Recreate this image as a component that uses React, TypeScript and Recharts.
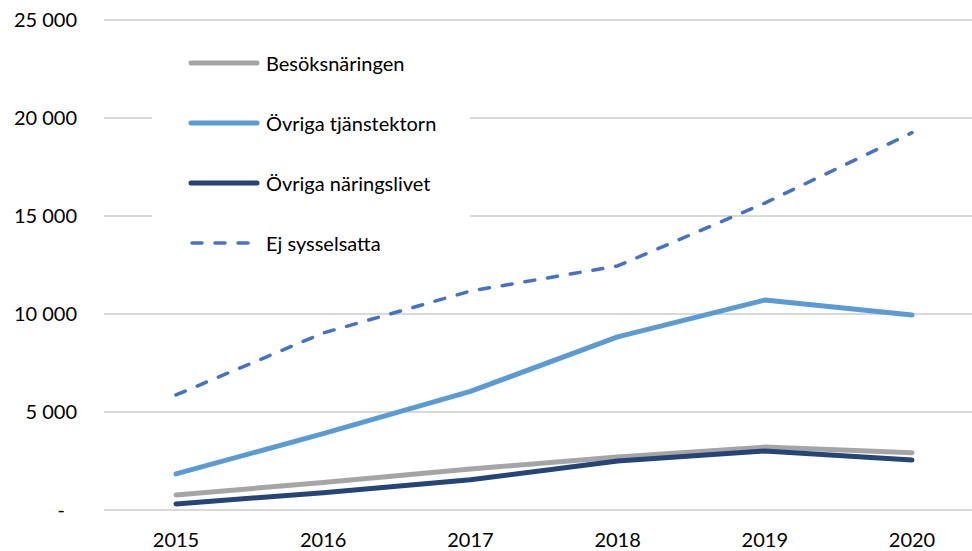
import { LineChart, Line, XAxis, YAxis, CartesianGrid, Legend } from 'recharts';

const years = ['2015', '2016', '2017', '2018', '2019', '2020'];
const besoksnaringen = [770, 1400, 2090, 2700, 3210, 2920];
const ovrigaTjanst = [1840, 3900, 6050, 8830, 10710, 9950];
const ovrigaNaring = [310, 880, 1540, 2500, 3010, 2550];
const ejSysselsatta = [5870, 9030, 11170, 12450, 15660, 19250];
const yTicks = [0, 5000, 10000, 15000, 20000, 25000];

const series = [
    { key: 'besok', name: 'Besöksnäringen', color: '#A5A5A5', width: 5, dash: undefined as string | undefined },
    { key: 'tjanst', name: 'Övriga tjänstektorn', color: '#5B9BD5', width: 5, dash: undefined },
    { key: 'naring', name: 'Övriga näringslivet', color: '#264478', width: 5, dash: undefined },
    { key: 'ej', name: 'Ej sysselsatta', color: '#4472C4', width: 3.5, dash: '10 13' },
];

const data = years.map((y, i) => ({
    year: y,
    besok: besoksnaringen[i],
    tjanst: ovrigaTjanst[i],
    naring: ovrigaNaring[i],
    ej: ejSysselsatta[i],
}));

const font = "Lato, 'Open Sans', sans-serif";

const fmt = (v: number) => String(v).replace(/\B(?=(\d{3})+(?!\d))/g, ' ');

const YTick = (props: any) => {
    const { x, y, payload } = props;
    const v = payload.value as number;
    return (
        <text x={v === 0 ? x - 12 : x} y={y} dy="0.355em" textAnchor="end" fill="#000" fontSize={20} fontFamily={font}>
            {v === 0 ? '-' : fmt(v)}
        </text>
    );
};

const LegendBox = () => (
    <div style={{ background: '#fff', width: 318, height: 240, fontFamily: font, fontSize: 20, color: '#000' }}>
        {series.map(s => (
            <div key={s.key} style={{ height: 60, display: 'flex', alignItems: 'center', paddingLeft: 36 }}>
                <svg width={72} height={10} style={{ marginRight: 6 }}>
                    <line x1={s.dash ? 4 : 3} y1={5} x2={s.dash ? 70 : 69} y2={5} stroke={s.color} strokeWidth={s.width}
                        strokeDasharray={s.dash} strokeLinecap="round" />
                </svg>
                <span>{s.name}</span>
            </div>
        ))}
    </div>
);

export default function App() {
    return (
        <div style={{ position: 'fixed', left: 0, top: 0, width: 972, height: 551, background: '#fff', overflow: 'hidden' }}>
            <LineChart width={972} height={551} data={data} margin={{ top: 20, right: 0, bottom: 0, left: 0 }}>
                <CartesianGrid vertical={false} stroke="#D9D9D9" strokeWidth={2} />
                <XAxis dataKey="year" axisLine={false} tickLine={false} tickSize={0} tickMargin={23} height={41}
                    padding={{ left: 72, right: 60 }}
                    tick={{ fill: '#000', fontSize: 20, fontFamily: font }} />
                <YAxis domain={[0, 25000]} ticks={yTicks} axisLine={false} tickLine={false} tickSize={0} tickMargin={27}
                    width={104} tick={<YTick />} />
                <Legend layout="vertical" verticalAlign="middle" align="center" content={<LegendBox />}
                    wrapperStyle={{ left: 152, top: 33, width: 318, height: 240 }} />
                {series.map(s => (
                    <Line key={s.key} type="linear" dataKey={s.key} name={s.name} stroke={s.color} strokeWidth={s.width}
                        strokeDasharray={s.dash} strokeLinecap="round" strokeLinejoin="round" dot={false} activeDot={false}
                        isAnimationActive={false} />
                ))}
            </LineChart>
        </div>
    );
}
